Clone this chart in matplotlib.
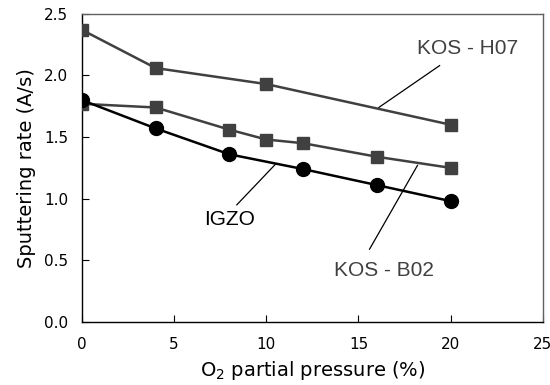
import matplotlib.pyplot as plt

# data
x_h07 = [0, 4, 10, 20]
y_h07 = [2.37, 2.06, 1.93, 1.60]

x_b02 = [0, 4, 8, 10, 12, 16, 20]
y_b02 = [1.77, 1.74, 1.56, 1.48, 1.45, 1.34, 1.25]

x_igzo = [0, 4, 8, 12, 16, 20]
y_igzo = [1.80, 1.57, 1.36, 1.24, 1.11, 0.98]

x_ticks = [0, 5, 10, 15, 20, 25]
y_ticks = [0.0, 0.5, 1.0, 1.5, 2.0, 2.5]

gray = '#404040'

fig = plt.figure(figsize=(5.5, 3.85), dpi=100)
ax = fig.add_axes([0.149, 0.164, 0.838, 0.800])

ax.plot(x_h07, y_h07, color=gray, lw=1.8, marker='s', ms=9, zorder=3)
ax.plot(x_b02, y_b02, color=gray, lw=1.8, marker='s', ms=9, zorder=3)
ax.plot(x_igzo, y_igzo, color='black', lw=1.8, marker='o', ms=10, zorder=4)

ax.set_xlim(0, 25)
ax.set_ylim(0, 2.5)
ax.set_xticks(x_ticks)
ax.set_yticks(y_ticks)
ax.set_yticklabels(['%.1f' % v for v in y_ticks])
ax.tick_params(direction='in', length=5, labelsize=11, colors='black')
ax.tick_params(axis='x', pad=11)
ax.tick_params(axis='y', pad=10)

for s in ['top', 'right']:
    ax.spines[s].set_color('#606060')
for s in ax.spines.values():
    s.set_linewidth(1.0)

ax.set_xlabel('O$_2$ partial pressure (%)', fontsize=14, labelpad=5)
ax.set_ylabel('Sputtering rate (A/s)', fontsize=14, labelpad=6)

# annotations with leader lines
ann = dict(fontsize=15, color=gray, family='Liberation Sans', ha='center', va='center')
ax.plot([16.1, 19.4], [1.74, 2.08], color='black', lw=0.9)
ax.text(20.9, 2.22, 'KOS - H07', **ann)

ax.plot([15.6, 18.2], [0.59, 1.27], color='black', lw=0.9)
ax.text(16.4, 0.42, 'KOS - B02', **ann)

ax.plot([8.4, 10.5], [0.95, 1.28], color='black', lw=0.9)
ax.text(8.0, 0.83, 'IGZO', **dict(ann, color='black'))

fig.savefig('out.png', dpi=100)
